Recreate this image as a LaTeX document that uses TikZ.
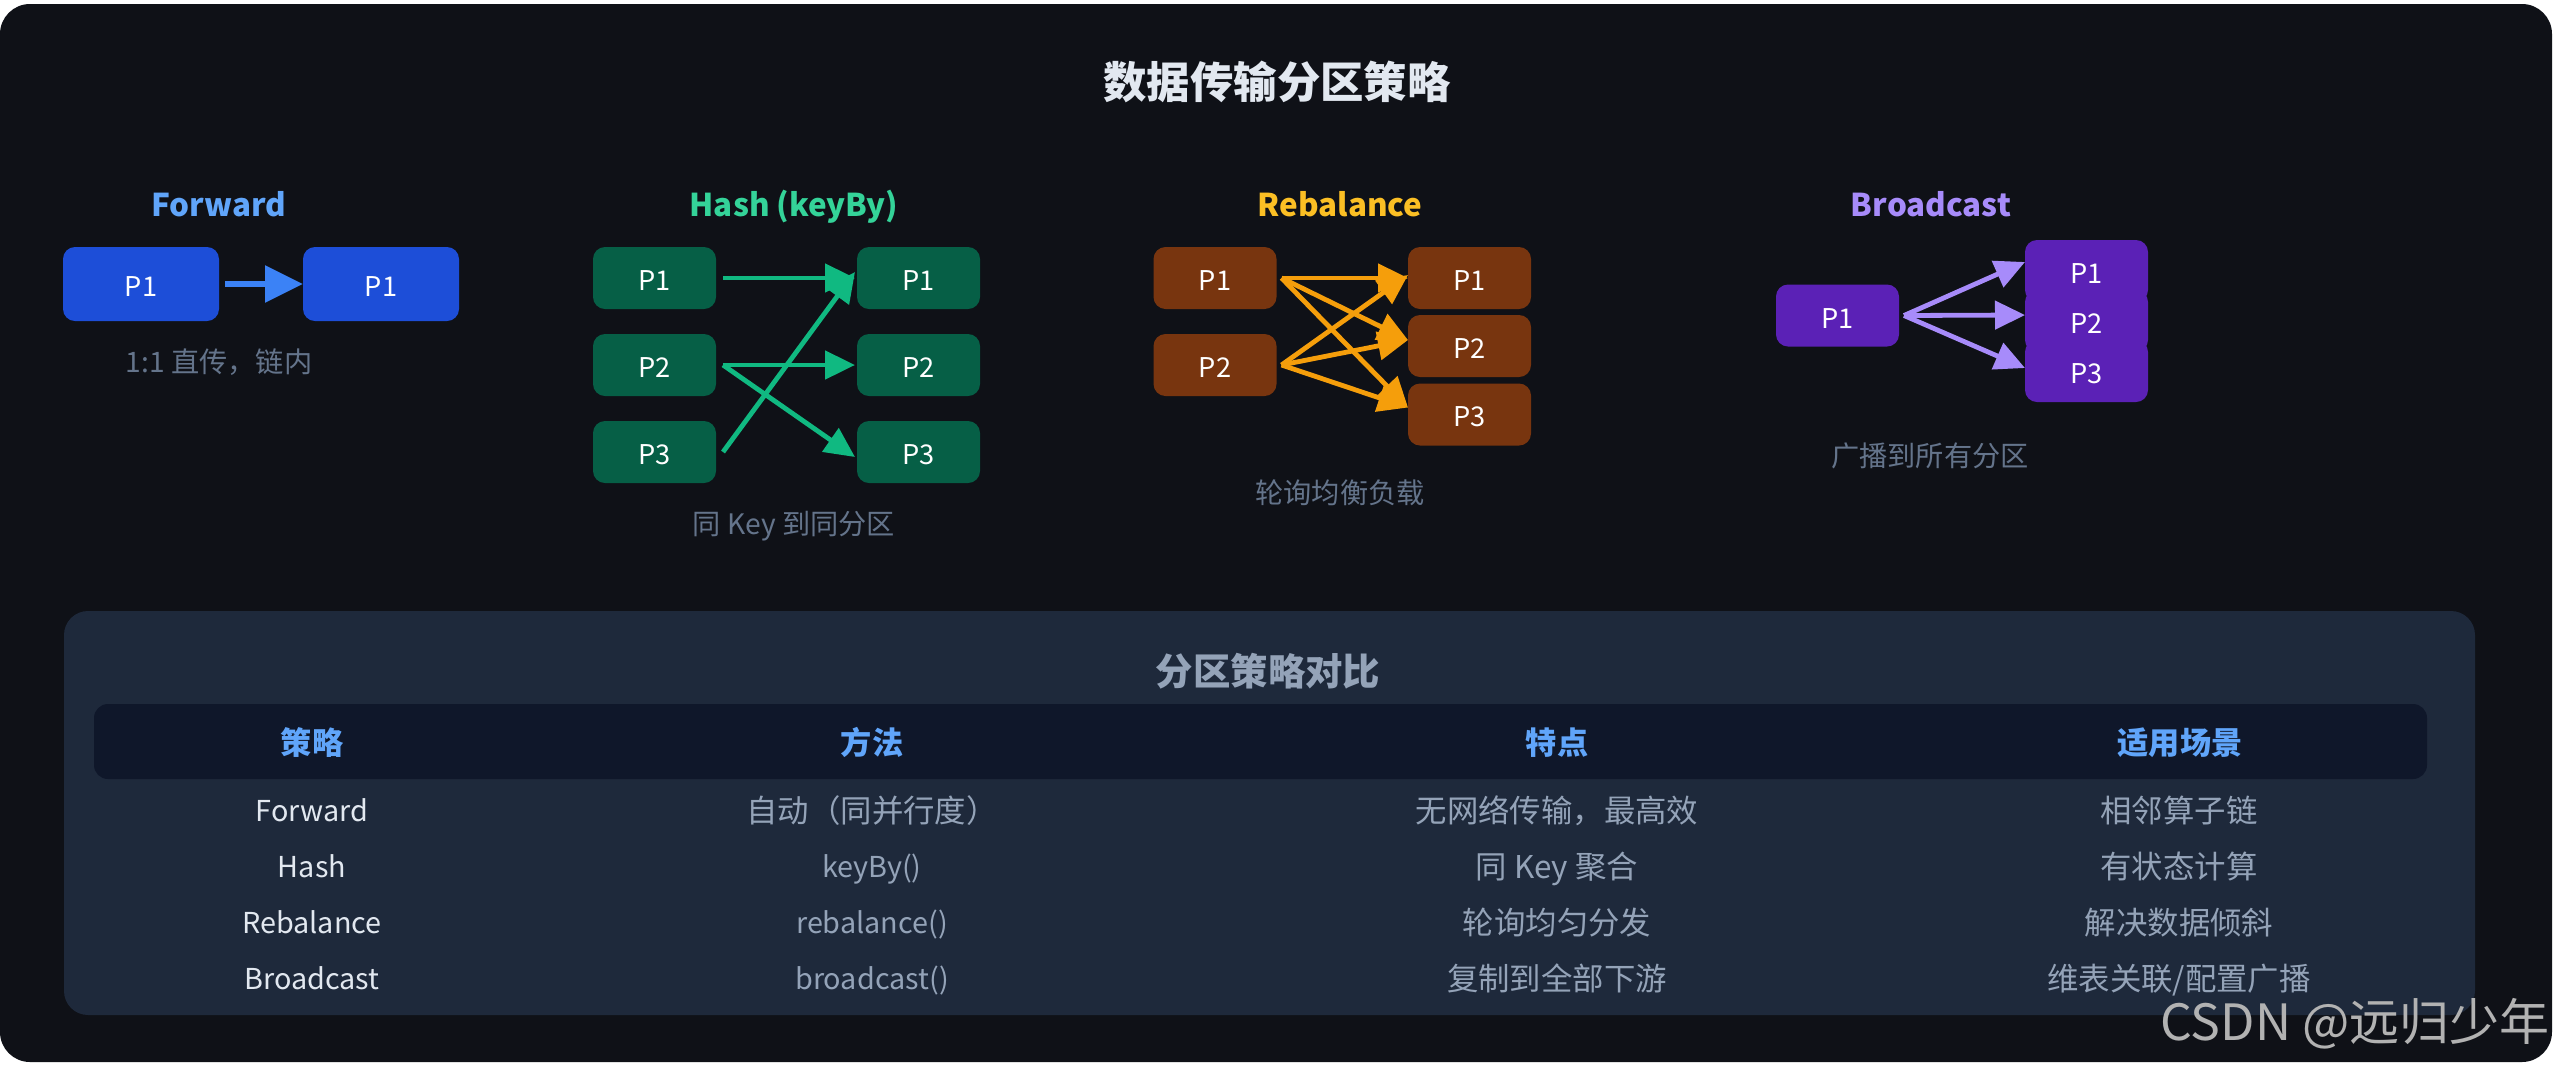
\documentclass[tikz,border=0pt]{standalone}
\usepackage{fontspec}
\setmainfont{Noto Sans CJK SC}
\usetikzlibrary{arrows.meta}
\definecolor{pagebg}{HTML}{0F1117}
\definecolor{panelbg}{HTML}{1E293B}
\definecolor{headbg}{HTML}{0F172A}
\definecolor{tmuted}{HTML}{94A3B8}
\definecolor{tlight}{HTML}{E2E8F0}
\definecolor{tcap}{HTML}{64748B}
\definecolor{bluebox}{HTML}{1D4ED8}\definecolor{bluearr}{HTML}{3B82F6}\definecolor{bluetxt}{HTML}{60A5FA}
\definecolor{greenbox}{HTML}{065F46}\definecolor{greenarr}{HTML}{10B981}\definecolor{greentxt}{HTML}{34D399}
\definecolor{brownbox}{HTML}{78350F}\definecolor{brownarr}{HTML}{F59E0B}\definecolor{browntxt}{HTML}{FBBF24}
\definecolor{purpbox}{HTML}{5B21B6}\definecolor{purparr}{HTML}{A78BFA}
\newcommand{\Plab}[1]{\raisebox{-1.3pt}[\height][\depth]{#1}}
\tikzset{
  txt/.style={inner sep=0pt,outer sep=0pt,text height=.8em,text depth=.2em,anchor=center},
  pbox/.style={rounded corners=6pt,inner sep=0pt,outer sep=0pt,text=white,align=center,font=\fontsize{13.6}{15}\selectfont},
  wide/.style={minimum width=78pt,minimum height=37pt},
  narrow/.style={minimum width=61.5pt,minimum height=31pt},
  bigarrow/.style={draw=bluearr,line width=3pt,-{Triangle[length=19pt,width=18pt]}},
  thin/.style={line width=2.4pt,-{Triangle[length=15pt,width=14pt]}},
  stitle/.style={txt,font=\fontsize{15.7}{19}\selectfont\bfseries},
  capt/.style={txt,text=tcap,font=\fontsize{14.1}{16}\selectfont},
  thead/.style={txt,text=bluetxt,font=\fontsize{15.6}{18}\selectfont\bfseries},
  tfirst/.style={txt,text=tlight,font=\fontsize{14.4}{18}\selectfont},
  tcell/.style={txt,text=tmuted,font=\fontsize{15.7}{18}\selectfont},
  tlatin/.style={txt,text=tmuted,font=\fontsize{14.4}{18}\selectfont},
}
\begin{document}
\begin{tikzpicture}[x=0.5pt,y=-0.5pt]
\useasboundingbox (0,0) rectangle (2556,1067);
\fill[white] (0,0) rectangle (2556,1067);
\fill[pagebg,rounded corners=15pt] (0,4) rectangle (2552,1062);
\node[txt,text=tlight,font=\fontsize{21.7}{26}\selectfont\bfseries] (title) at (1277,92) {数据传输分区策略};

% Forward
\node[stitle,text=bluetxt] (tf) at (219,210) {Forward};
\node[pbox,wide,fill=bluebox] (fa) at (141,284) {\Plab{P1}};
\node[pbox,wide,fill=bluebox] (fb) at (381,284) {\Plab{P1}};
\draw[bigarrow] ([shift={(6,0)}]fa.east) -- (fb.west);
\node[capt] (cf) at (219,366) {1:1 直传，链内};

% Hash
\node[stitle,text=greentxt] (th) at (794,210) {Hash (keyBy)};
\node[pbox,narrow,fill=greenbox] (hl1) at (654.5,278) {\Plab{P1}};
\node[pbox,narrow,fill=greenbox] (hl2) at (654.5,365) {\Plab{P2}};
\node[pbox,narrow,fill=greenbox] (hl3) at (654.5,452) {\Plab{P3}};
\node[pbox,narrow,fill=greenbox] (hr1) at (918.5,278) {\Plab{P1}};
\node[pbox,narrow,fill=greenbox] (hr2) at (918.5,365) {\Plab{P2}};
\node[pbox,narrow,fill=greenbox] (hr3) at (918.5,452) {\Plab{P3}};
\draw[thin,draw=greenarr] ([shift={(7,0)}]hl1.east) -- ([shift={(-2,0)}]hr1.west);
\draw[thin,draw=greenarr] ([shift={(7,0)}]hl2.east) -- ([shift={(-2,0)}]hr2.west);
\draw[thin,draw=greenarr] ([shift={(7,0)}]hl2.east) -- ([shift={(-2,5)}]hr3.west);
\draw[thin,draw=greenarr] ([shift={(7,0)}]hl3.east) -- ([shift={(-2,-6)}]hr1.west);
\node[capt] (ch) at (794,528) {同 Key 到同分区};

% Rebalance
\node[stitle,text=browntxt] (tr) at (1340,210) {Rebalance};
\node[pbox,narrow,fill=brownbox] (rl1) at (1215,278) {\Plab{P1}};
\node[pbox,narrow,fill=brownbox] (rl2) at (1215,365) {\Plab{P2}};
\node[pbox,narrow,fill=brownbox] (rr1) at (1469.5,278) {\Plab{P1}};
\node[pbox,narrow,fill=brownbox] (rr2) at (1469.5,346) {\Plab{P2}};
\node[pbox,narrow,fill=brownbox] (rr3) at (1469.5,414.5) {\Plab{P3}};
\draw[thin,draw=brownarr] ([shift={(5,0)}]rl1.east) -- (rr1.west);
\draw[thin,draw=brownarr] ([shift={(5,0)}]rl1.east) -- ([shift={(0,-6)}]rr2.west);
\draw[thin,draw=brownarr] ([shift={(5,0)}]rl1.east) -- ([shift={(0,-7)}]rr3.west);
\draw[thin,draw=brownarr] ([shift={(5,0)}]rl2.east) -- ([shift={(0,-3)}]rr1.west);
\draw[thin,draw=brownarr] ([shift={(5,0)}]rl2.east) -- ([shift={(0,-6)}]rr2.west);
\draw[thin,draw=brownarr] ([shift={(5,0)}]rl2.east) -- ([shift={(0,-7)}]rr3.west);
\node[capt] (cr) at (1340,497) {轮询均衡负载};

% Broadcast
\node[stitle,text=purparr] (tb) at (1931,210) {Broadcast};
\node[pbox,narrow,fill=purpbox] (bl) at (1837.5,315.5) {\Plab{P1}};
\node[pbox,narrow,fill=purpbox] (br1) at (2086.5,271) {\Plab{P1}};
\node[pbox,narrow,fill=purpbox] (br2) at (2086.5,321) {\Plab{P2}};
\node[pbox,narrow,fill=purpbox] (br3) at (2086.5,371) {\Plab{P3}};
\draw[thin,draw=purparr] ([shift={(5,0)}]bl.east) -- ([shift={(0,-9)}]br1.west);
\draw[thin,draw=purparr] ([shift={(5,0)}]bl.east) -- ([shift={(0,-6)}]br2.west);
\draw[thin,draw=purparr] ([shift={(5,0)}]bl.east) -- ([shift={(0,-3)}]br3.west);
\node[capt] (cb) at (1930,460) {广播到所有分区};

% Panel
\fill[panelbg,rounded corners=12pt] (64,611) rectangle (2475,1015);
\fill[headbg,rounded corners=7pt] (94,704) rectangle (2427,779);
\node[txt,text=tmuted,font=\fontsize{18.7}{22}\selectfont\bfseries] (pt) at (1268,679) {分区策略对比};

\node[thead] (h1) at (312,748) {策略};
\node[thead] (h2) at (872,748) {方法};
\node[thead] (h3) at (1557,748) {特点};
\node[thead] (h4) at (2180,748) {适用场景};

\node[tfirst] (a1) at (312,815) {Forward};
\node[tcell] (a2) at (872,816) {自动（同并行度）};
\node[tcell] (a3) at (1557,816) {无网络传输，最高效};
\node[tcell] (a4) at (2179,816) {相邻算子链};

\node[tfirst] (b1) at (312,871) {Hash};
\node[tlatin] (b2) at (872,871) {keyBy()};
\node[tcell] (b3) at (1557,872) {同 Key 聚合};
\node[tcell] (b4) at (2179,872) {有状态计算};

\node[tfirst] (c1) at (312,927) {Rebalance};
\node[tlatin] (c2) at (872,927) {rebalance()};
\node[tcell] (c3) at (1557,928) {轮询均匀分发};
\node[tcell] (c4) at (2179,928) {解决数据倾斜};

\node[tfirst] (d1) at (312,983) {Broadcast};
\node[tlatin] (d2) at (872,983) {broadcast()};
\node[tcell] (d3) at (1557,984) {复制到全部下游};
\node[tcell] (d4) at (2179,984) {维表关联/配置广播};

\node[txt,text=white!70!black,font=\fontsize{25}{30}\selectfont] (wm) at (2355,1034) {CSDN @远归少年};
\end{tikzpicture}
\end{document}
